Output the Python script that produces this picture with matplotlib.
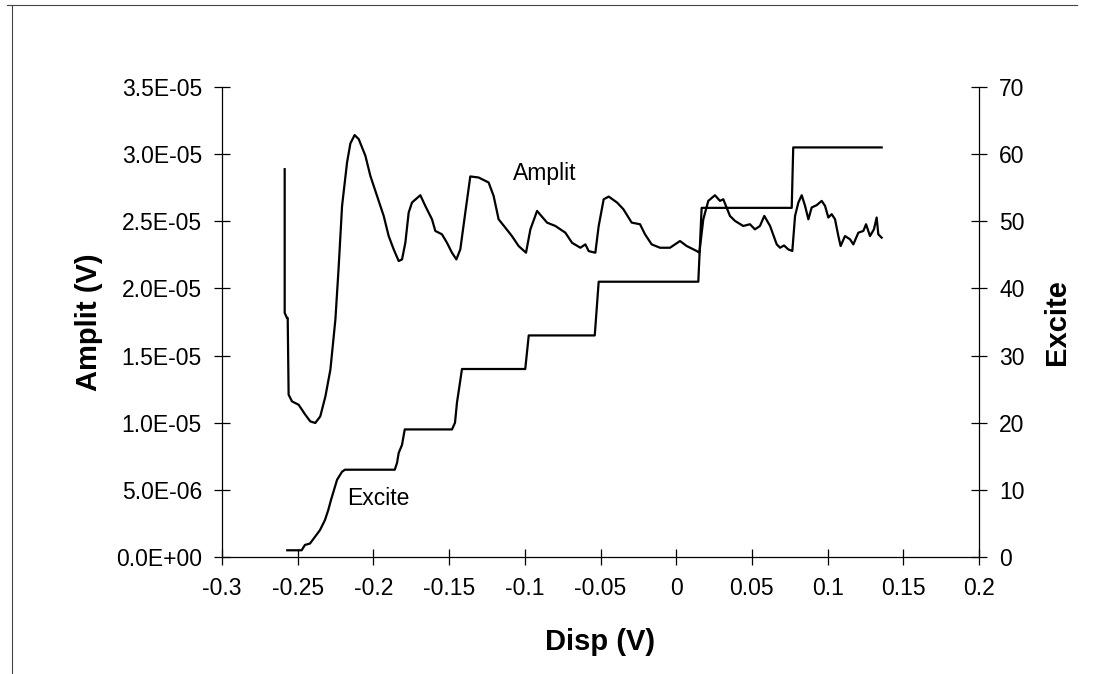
import matplotlib

matplotlib.use("Agg")

import matplotlib.pyplot as plt
from matplotlib.lines import Line2D
from matplotlib.ticker import FixedLocator, FuncFormatter


# Amplit trace (Disp in V, amplitude in units of 1E-05 V)
amplit_disp = [
    -0.2586, -0.2586, -0.2571, -0.2566, -0.2560, -0.2538, -0.2494, -0.2450,
    -0.2417, -0.2384, -0.2351, -0.2317, -0.2284, -0.2251, -0.2229, -0.2207,
    -0.2174, -0.2152, -0.2124, -0.2097, -0.2053, -0.2020, -0.1976, -0.1932,
    -0.1899, -0.1866, -0.1833, -0.1811, -0.1789, -0.1767, -0.1745, -0.1690,
    -0.1657, -0.1613, -0.1591, -0.1547, -0.1514, -0.1481, -0.1452, -0.1426,
    -0.1393, -0.1360, -0.1305, -0.1239, -0.1206, -0.1173, -0.1129, -0.1085,
    -0.1041, -0.0992, -0.0963, -0.0919, -0.0853, -0.0798, -0.0732, -0.0688,
    -0.0633, -0.0600, -0.0578, -0.0534, -0.0512, -0.0479, -0.0446, -0.0391,
    -0.0349, -0.0294, -0.0239, -0.0206, -0.0162, -0.0107, -0.0041, -0.0008,
    0.0025, 0.0069, 0.0135, 0.0153, 0.0179, 0.0212, 0.0256, 0.0289,
    0.0311, 0.0355, 0.0388, 0.0443, 0.0487, 0.0520, 0.0553, 0.0582,
    0.0620, 0.0664, 0.0686, 0.0712, 0.0741, 0.0767, 0.0785, 0.0807,
    0.0829, 0.0851, 0.0873, 0.0895, 0.0928, 0.0961, 0.0983, 0.1005,
    0.1027, 0.1049, 0.1071, 0.1086, 0.1115, 0.1148, 0.1170, 0.1203,
    0.1236, 0.1254, 0.1280, 0.1306, 0.1324, 0.1335, 0.1357,
]
amplit_e5 = [
    2.888, 1.818, 1.78, 1.78, 1.209, 1.159, 1.134, 1.060,
    1.010, 0.998, 1.047, 1.196, 1.396, 1.769, 2.167, 2.614,
    2.938, 3.080, 3.142, 3.112, 2.988, 2.838, 2.689, 2.540,
    2.390, 2.291, 2.204, 2.216, 2.340, 2.565, 2.640, 2.694,
    2.614, 2.515, 2.428, 2.403, 2.340, 2.266, 2.216, 2.291,
    2.565, 2.834, 2.826, 2.789, 2.689, 2.515, 2.453, 2.390,
    2.316, 2.266, 2.440, 2.577, 2.490, 2.465, 2.415, 2.340,
    2.303, 2.328, 2.278, 2.266, 2.465, 2.664, 2.684, 2.640,
    2.590, 2.490, 2.478, 2.403, 2.328, 2.303, 2.303, 2.328,
    2.353, 2.316, 2.279, 2.266, 2.515, 2.652, 2.694, 2.652,
    2.664, 2.540, 2.503, 2.465, 2.478, 2.440, 2.465, 2.540,
    2.465, 2.328, 2.303, 2.320, 2.290, 2.279, 2.540, 2.640,
    2.694, 2.615, 2.515, 2.603, 2.620, 2.652, 2.615, 2.528,
    2.553, 2.515, 2.390, 2.316, 2.390, 2.366, 2.328, 2.415,
    2.428, 2.478, 2.390, 2.440, 2.528, 2.403, 2.378,
]

# Excite staircase (right axis)
excite_disp = [
    -0.2569, -0.2474, -0.2452, -0.2419, -0.2386, -0.2353, -0.2320, -0.2298,
    -0.2280, -0.2260, -0.2240, -0.2207, -0.2188, -0.1859, -0.1844, -0.1833,
    -0.1811, -0.1793, -0.1481, -0.1461, -0.1448, -0.1428, -0.1415, -0.0997,
    -0.0974, -0.0538, -0.0512, 0.0146, 0.0168, 0.0763, 0.0773, 0.1357,
]
excite_vals = [
    1, 1, 1.8, 2, 3, 4, 5.5, 7,
    8.5, 10, 11.5, 12.7, 13, 13, 14, 15.5,
    16.7, 19, 19, 20, 23, 26, 28, 28,
    33, 33, 41, 41, 52, 52, 61, 61,
]

disp_ticks = [-0.3, -0.25, -0.2, -0.15, -0.1, -0.05, 0, 0.05, 0.1, 0.15, 0.2]
amplit_ticks = [0, 5e-6, 1e-5, 1.5e-5, 2e-5, 2.5e-5, 3e-5, 3.5e-5]
excite_ticks = [0, 10, 20, 30, 40, 50, 60, 70]

plt.rcParams["font.family"] = ["Liberation Sans", "DejaVu Sans"]

fig = plt.figure(figsize=(11.19, 6.74), dpi=100, facecolor="white")
ax = fig.add_axes([222 / 1119, 1 - 557 / 674, 757 / 1119, 470 / 674])
ax2 = ax.twinx()

ax.plot(amplit_disp, [v * 1e-5 for v in amplit_e5], color="black", lw=1.6)
ax2.plot(excite_disp, excite_vals, color="black", lw=1.6)

ax.set_xlim(-0.3, 0.2)
ax.set_ylim(0, 3.5e-5)
ax2.set_ylim(0, 70)

ax.xaxis.set_major_locator(FixedLocator(disp_ticks))
ax.yaxis.set_major_locator(FixedLocator(amplit_ticks))
ax2.yaxis.set_major_locator(FixedLocator(excite_ticks))
ax.xaxis.set_major_formatter(FuncFormatter(lambda v, _: f"{round(v, 2) + 0:g}"))
ax.yaxis.set_major_formatter(FuncFormatter(lambda v, _: f"{v:.1E}"))

for axis in (ax, ax2):
    axis.spines["top"].set_visible(False)
    for side in ("left", "right", "bottom"):
        axis.spines[side].set_linewidth(0.9)
    axis.tick_params(direction="inout", length=11, width=0.9, labelsize=16.5, pad=9)
ax.spines["right"].set_visible(False)
ax2.spines["left"].set_visible(False)
ax2.spines["bottom"].set_visible(False)

ax.set_xlabel("Disp (V)", fontsize=21, fontweight="bold", labelpad=20)
ax.set_ylabel("Amplit (V)", fontsize=21, fontweight="bold", labelpad=9)
ax2.set_ylabel("Excite", fontsize=21, fontweight="bold", labelpad=13)

ax.text(-0.108, 2.858e-5, "Amplit", fontsize=16.5, va="center", ha="left")
ax.text(-0.2174, 0.433e-5, "Excite", fontsize=16.5, va="center", ha="left")

# partial frame left by the scan: left and top edges only
fig.add_artist(Line2D([12 / 1119, 12 / 1119], [0.0, 1 - 5 / 674],
                      transform=fig.transFigure, color="#444444", lw=0.8))
fig.add_artist(Line2D([7 / 1119, 1077 / 1119], [1 - 5 / 674, 1 - 5 / 674],
                      transform=fig.transFigure, color="#444444", lw=0.8))

fig.savefig("out.png", dpi=100, facecolor="white")
